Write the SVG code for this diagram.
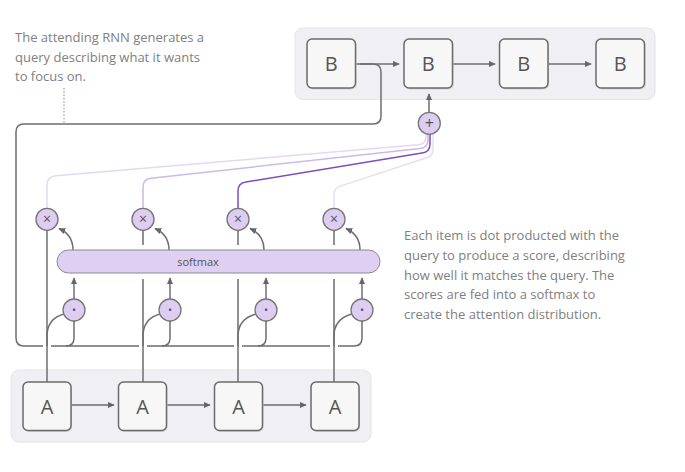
<svg xmlns="http://www.w3.org/2000/svg" width="685" height="472" viewBox="0 0 685 472">
<defs>
<marker id="arr" viewBox="0 0 10 10" refX="9" refY="5" markerWidth="7" markerHeight="7" orient="auto" markerUnits="userSpaceOnUse"><path d="M0,0.5 L10,5 L0,9.5 z" fill="#666"/></marker>
<style>
.grp{fill:#f0f0f4;stroke:#e4e4e9;stroke-width:1}
.node{fill:#f7f7f7;stroke:#6b6b6b;stroke-width:1.5}
.shadow{fill:#d3d3d6}
.lbl{font-family:"Open Sans","Liberation Sans",sans-serif;font-size:20px;fill:#555;text-anchor:middle}
.op{fill:#dccdf1;stroke:#767676;stroke-width:1.3}
.opt{font-family:"Open Sans","Liberation Sans",sans-serif;fill:#555;text-anchor:middle}
.ln{fill:none;stroke:#6e6e6e;stroke-width:1.5}
.ar{marker-end:url(#arr)}
.note{font-family:"Open Sans","Liberation Sans",sans-serif;font-size:13px;fill:#808080}
.note2{font-family:"Open Sans","Liberation Sans",sans-serif;font-size:13px;fill:#808080}
.att{fill:none;stroke-width:1.5}
</style>
</defs>
<rect width="685" height="472" fill="#ffffff"/>

<g id="group-top"><rect class="grp" x="295" y="28" width="360" height="71.5" rx="8"/></g>
<g id="group-bottom"><rect class="grp" x="11" y="370" width="360" height="72" rx="8"/></g>

<g id="connectors">
  <path class="att" stroke="#e3d9f2" d="M47,208 V185 Q47,176.5 56,175.7 L418,144.8 Q426,144.1 426,136 V128"/>
  <path class="att" stroke="#cdb9e8" d="M143,208 V187 Q143,179 151,178.2 L420,148.6 Q428,147.8 428,140 V128"/>
  <path class="att" stroke="#7d4cbf" stroke-width="2" d="M238,208 V191 Q238,183 246,182 L422,153.1 Q430,152 430,144 V128"/>
  <path class="att" stroke="#e7def4" d="M334,208 V195 Q334,187 342,185.6 L425,158.3 Q433,157 433,149 V128"/>

  <path class="ln ar" d="M356,64 H399"/>
  <path class="ln ar" d="M452,64 H495"/>
  <path class="ln ar" d="M548,64 H591"/>
  <path class="ln ar" d="M429,112 V94"/>

  <path class="ln" d="M360,64 H373 Q381,64 381,72 V116 Q381,124 373,124 H24 Q16,124 16,132 V338 Q16,346 24,346 H43"/>
  <path class="ln" d="M51,346 H139 M147,346 H234 M242,346 H330 M338,346 H354 Q362,346 362,338 V321"/>
  <path class="ln" d="M66,346 Q74,346 74,338 V321"/>
  <path class="ln" d="M162,346 Q170,346 170,338 V321"/>
  <path class="ln" d="M258,346 Q266,346 266,338 V321"/>
  <path stroke="#999" stroke-width="1.2" stroke-dasharray="1.5 1.8" fill="none" d="M64,88 V123"/>

  <path class="ln" d="M47,382 V230"/>
  <path class="ln" d="M143,382 V279 M143,245 V230"/>
  <path class="ln" d="M238,382 V279 M238,245 V230"/>
  <path class="ln" d="M334,382 V279 M334,245 V230"/>
  <path class="ln" d="M47,346 V336 C47,324 53,317 64,314"/>
  <path class="ln" d="M143,346 V336 C143,324 149,317 160,314"/>
  <path class="ln" d="M238,346 V336 C238,324 245,317 256,314"/>
  <path class="ln" d="M334,346 V336 C334,324 341,317 352,314"/>

  <path class="ln ar" d="M74,299 V278"/>
  <path class="ln ar" d="M170,299 V278"/>
  <path class="ln ar" d="M266,299 V278"/>
  <path class="ln ar" d="M362,299 V278"/>

  <path class="ln ar" d="M73,250 C73,240 69,233 59,228.5"/>
  <path class="ln ar" d="M169,250 C169,240 165,233 155,228.5"/>
  <path class="ln ar" d="M264,250 C264,240 260,233 250,228.5"/>
  <path class="ln ar" d="M360,250 C360,240 356,233 346,228.5"/>

  <path class="ln ar" d="M71,405 H114"/>
  <path class="ln ar" d="M167,405 H210"/>
  <path class="ln ar" d="M263,405 H306"/>
</g>

<g id="softmax">
  <rect x="57" y="250" width="323" height="23" rx="11.5" fill="#dfd0f3" stroke="#8a8a8a" stroke-width="1"/>
  <text class="opt" x="198" y="266" font-size="11">softmax</text>
</g>

<g id="B1"><rect class="shadow" x="308" y="40.5" width="48.5" height="49" rx="5"/><rect class="node" x="307" y="39" width="48.5" height="49" rx="5"/><text class="lbl" x="331.3" y="71">B</text></g>
<g id="B2"><rect class="shadow" x="405" y="40.5" width="48.5" height="49" rx="5"/><rect class="node" x="404" y="39" width="48.5" height="49" rx="5"/><text class="lbl" x="428.3" y="71">B</text></g>
<g id="B3"><rect class="shadow" x="500.5" y="40.5" width="48.5" height="49" rx="5"/><rect class="node" x="499.5" y="39" width="48.5" height="49" rx="5"/><text class="lbl" x="523.8" y="71">B</text></g>
<g id="B4"><rect class="shadow" x="597" y="40.5" width="48.5" height="49" rx="5"/><rect class="node" x="596" y="39" width="48.5" height="49" rx="5"/><text class="lbl" x="620.3" y="71">B</text></g>

<g id="A1"><rect class="shadow" x="24" y="383.5" width="48" height="48.5" rx="5"/><rect class="node" x="23" y="382" width="48" height="48.5" rx="5"/><text class="lbl" x="47" y="413.5">A</text></g>
<g id="A2"><rect class="shadow" x="119.5" y="383.5" width="48" height="48.5" rx="5"/><rect class="node" x="118.5" y="382" width="48" height="48.5" rx="5"/><text class="lbl" x="142.5" y="413.5">A</text></g>
<g id="A3"><rect class="shadow" x="215.5" y="383.5" width="48" height="48.5" rx="5"/><rect class="node" x="214.5" y="382" width="48" height="48.5" rx="5"/><text class="lbl" x="238.5" y="413.5">A</text></g>
<g id="A4"><rect class="shadow" x="312" y="383.5" width="48" height="48.5" rx="5"/><rect class="node" x="311" y="382" width="48" height="48.5" rx="5"/><text class="lbl" x="335" y="413.5">A</text></g>

<g id="plus"><circle class="op" cx="429.3" cy="123.3" r="11"/><text class="opt" x="429.3" y="128.8" font-size="16">+</text></g>

<g id="mul1"><circle class="op" cx="47" cy="219.3" r="11"/><text class="opt" x="47" y="224.3" font-size="14">×</text></g>
<g id="mul2"><circle class="op" cx="143" cy="219.3" r="11"/><text class="opt" x="143" y="224.3" font-size="14">×</text></g>
<g id="mul3"><circle class="op" cx="238" cy="219.3" r="11"/><text class="opt" x="238" y="224.3" font-size="14">×</text></g>
<g id="mul4"><circle class="op" cx="334" cy="219.3" r="11"/><text class="opt" x="334" y="224.3" font-size="14">×</text></g>

<g id="dot1"><circle class="op" cx="74" cy="310" r="11"/><text class="opt" x="74" y="314" font-size="11">•</text></g>
<g id="dot2"><circle class="op" cx="170" cy="310" r="11"/><text class="opt" x="170" y="314" font-size="11">•</text></g>
<g id="dot3"><circle class="op" cx="266" cy="310" r="11"/><text class="opt" x="266" y="314" font-size="11">•</text></g>
<g id="dot4"><circle class="op" cx="362" cy="310" r="11"/><text class="opt" x="362" y="314" font-size="11">•</text></g>

<g id="note-query">
  <text class="note" x="15" y="42">The attending RNN generates a</text>
  <text class="note" x="15" y="61.5">query describing what it wants</text>
  <text class="note" x="15" y="81">to focus on.</text>
</g>
<g id="note-score">
  <text class="note2" x="404" y="240">Each item is dot producted with the</text>
  <text class="note2" x="404" y="259.8">query to produce a score, describing</text>
  <text class="note2" x="404" y="279.5">how well it matches the query. The</text>
  <text class="note2" x="404" y="299.3">scores are fed into a softmax to</text>
  <text class="note2" x="404" y="319">create the attention distribution.</text>
</g>
</svg>
